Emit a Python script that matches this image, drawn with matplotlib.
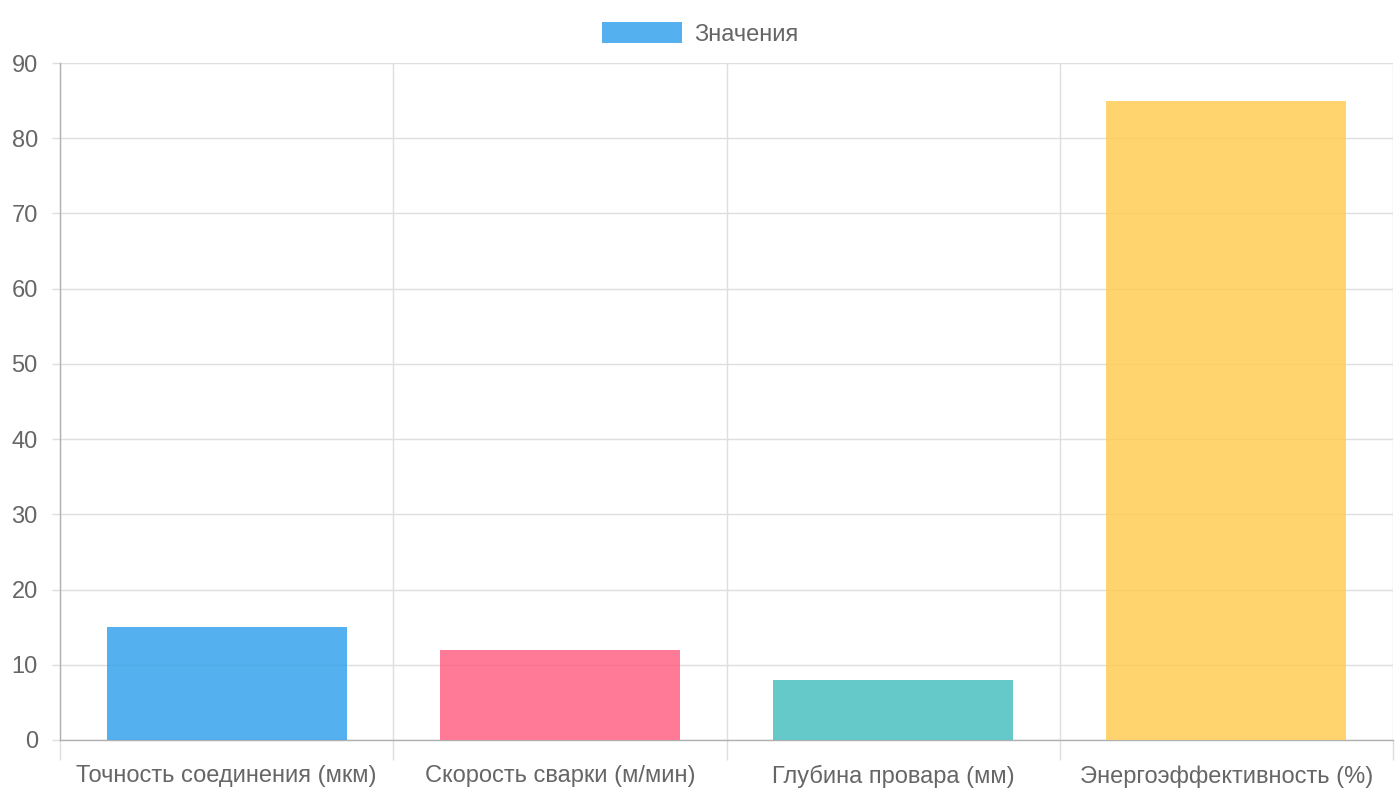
import numpy as np
import matplotlib.pyplot as plt
from matplotlib.patches import Patch

plt.rcParams['font.family'] = ['Liberation Sans', 'DejaVu Sans']

# data
categories = ['Точность соединения (мкм)', 'Скорость сварки (м/мин)',
              'Глубина провара (мм)', 'Энергоэффективность (%)']
values = [15, 12, 8, 85]
colors = ['#36a2eb', '#ff6384', '#4bc0c0', '#ffcd56']
legend_label = 'Значения'
yticks = np.arange(0, 91, 10)

grid_col = '#dedede'
axis_col = '#b0b0b0'
text_col = '#666666'

fig = plt.figure(figsize=(14, 8), dpi=100)
ax = fig.add_axes([60/1400, 60/800, 1333/1400, 677/800])

x = np.arange(len(categories))
ax.bar(x, values, width=0.72, color=colors, alpha=0.85, zorder=3)

ax.set_xlim(-0.5, len(categories) - 0.5)
ax.set_ylim(0, 90)

ax.set_yticks(yticks)
ax.set_xticks(x)
ax.set_xticklabels(categories)
ax.set_xticks(np.arange(-0.5, len(categories)), minor=True)

ax.grid(axis='y', which='major', color=grid_col, lw=1, zorder=0)
ax.grid(axis='x', which='minor', color=grid_col, lw=1, zorder=0)

ax.tick_params(axis='y', length=6, width=1, color=grid_col, pad=10,
               labelsize=17, labelcolor=text_col)
ax.tick_params(axis='x', which='major', length=0, pad=18,
               labelsize=17, labelcolor=text_col)
ax.tick_params(axis='x', which='minor', length=14.4, width=1, color=grid_col)

for s in ['top', 'right']:
    ax.spines[s].set_visible(False)
for s in ['left', 'bottom']:
    ax.spines[s].set_color(axis_col)
    ax.spines[s].set_linewidth(1)

handles = [Patch(facecolor=colors[0], alpha=0.85, label=legend_label)]
fig.legend(handles=handles, loc='upper center', bbox_to_anchor=(0.5, 1 - 1/800),
           frameon=False, fontsize=17, labelcolor=text_col,
           handlelength=3.4, handleheight=1.0, handletextpad=0.5)

fig.savefig('out.png', dpi=100)
